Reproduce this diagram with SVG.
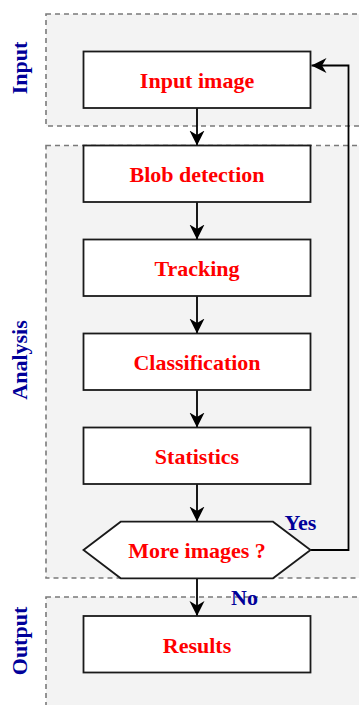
<svg xmlns="http://www.w3.org/2000/svg" width="359" height="705" viewBox="0 0 359 705">
<style>
.grp{fill:#f3f3f3;stroke:#7a7a7a;stroke-width:1.6;stroke-dasharray:5 4}
.box{fill:#ffffff;stroke:#1a1a1a;stroke-width:1.8}
.t{font-family:"Liberation Serif","Times New Roman",serif;font-weight:bold;font-size:22px;fill:#ff0000;text-anchor:middle}
.lbl{font-family:"Liberation Serif","Times New Roman",serif;font-weight:bold;font-size:22px;fill:#000099;text-anchor:middle}
.edge{fill:none;stroke:#000000;stroke-width:1.8}
</style>
<defs>
<marker id="arr" markerUnits="userSpaceOnUse" markerWidth="16" markerHeight="16" refX="15" refY="7.5" orient="auto" viewBox="0 0 16 15">
<path d="M0,0 L15,7.5 L0,15 L4.5,7.5 Z" fill="#000000"/>
</marker>
</defs>
<g id="group-input">
<rect class="grp" x="46" y="14" width="330" height="112"/>
<text class="lbl" transform="translate(26.5,68) rotate(-90)">Input</text>
</g>
<g id="group-analysis">
<rect class="grp" x="46" y="145.5" width="330" height="432.5"/>
<text class="lbl" transform="translate(26.5,360) rotate(-90)">Analysis</text>
</g>
<g id="group-output">
<rect class="grp" x="46" y="597" width="330" height="130"/>
<text class="lbl" transform="translate(26.5,641) rotate(-90)">Output</text>
</g>
<g id="connectors">
<line class="edge" x1="197" y1="108" x2="197" y2="145.5" marker-end="url(#arr)"/>
<line class="edge" x1="197" y1="202" x2="197" y2="239.5" marker-end="url(#arr)"/>
<line class="edge" x1="197" y1="296" x2="197" y2="333.5" marker-end="url(#arr)"/>
<line class="edge" x1="197" y1="390" x2="197" y2="427.5" marker-end="url(#arr)"/>
<line class="edge" x1="197" y1="484" x2="197" y2="521.5" marker-end="url(#arr)"/>
<line class="edge" x1="197" y1="578" x2="197" y2="616" marker-end="url(#arr)"/>
<polyline class="edge" points="310.5,550 348.5,550 348.5,65.5 311.5,65.5" marker-end="url(#arr)"/>
<text class="lbl" x="300.5" y="530">Yes</text>
<text class="lbl" x="244.5" y="605">No</text>
</g>
<g id="node-input-image">
<rect class="box" x="83.5" y="51.5" width="227" height="56.5"/>
<text class="t" x="197" y="88.3">Input image</text>
</g>
<g id="node-blob-detection">
<rect class="box" x="83.5" y="145.5" width="227" height="56.5"/>
<text class="t" x="197" y="182.3">Blob detection</text>
</g>
<g id="node-tracking">
<rect class="box" x="83.5" y="239.5" width="227" height="56.5"/>
<text class="t" x="197" y="276.3">Tracking</text>
</g>
<g id="node-classification">
<rect class="box" x="83.5" y="333.5" width="227" height="56.5"/>
<text class="t" x="197" y="370.3">Classification</text>
</g>
<g id="node-statistics">
<rect class="box" x="83.5" y="427.5" width="227" height="56.5"/>
<text class="t" x="197" y="464.3">Statistics</text>
</g>
<g id="node-more-images">
<polygon class="box" points="83.5,550 120.7,521.7 273,521.7 310.5,550 273,578.3 120.7,578.3"/>
<text class="t" x="197" y="558.3">More images ?</text>
</g>
<g id="node-results">
<rect class="box" x="83.5" y="616" width="227" height="56.5"/>
<text class="t" x="197" y="652.8">Results</text>
</g>
</svg>
